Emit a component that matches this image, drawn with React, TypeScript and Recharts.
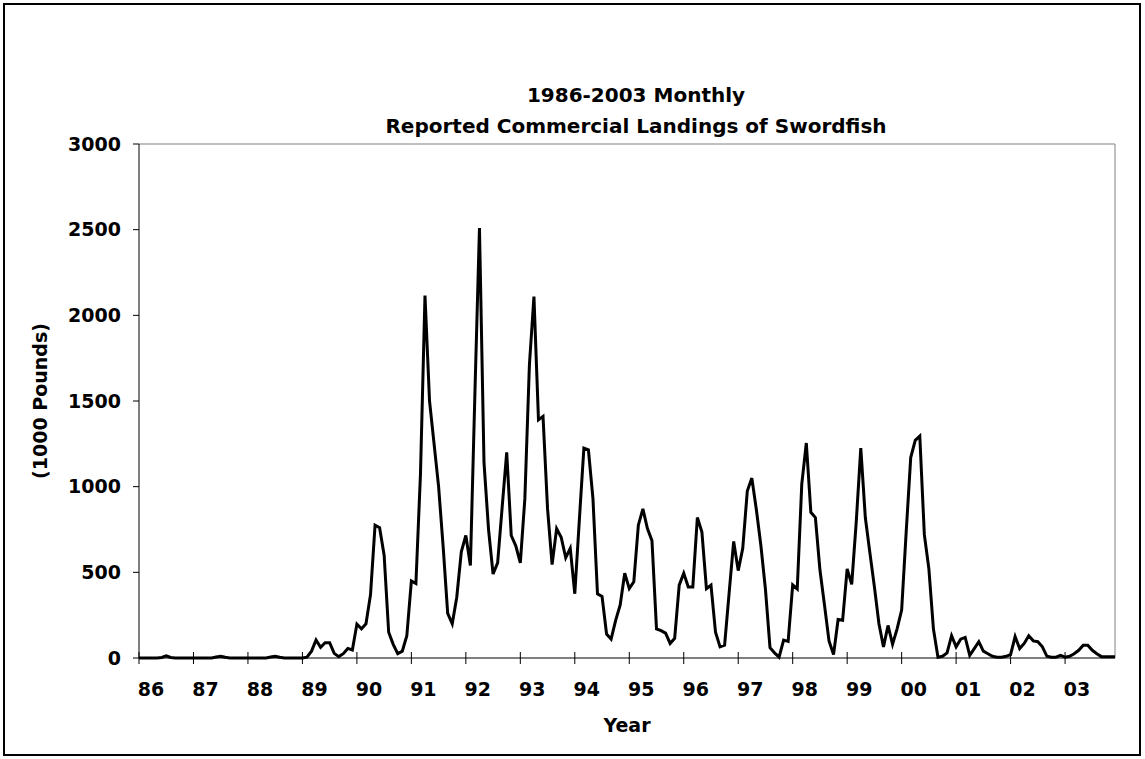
import { LineChart, Line, XAxis, YAxis, ReferenceLine } from 'recharts';

// Monthly landings (1000 lb), Jan..Dec
const years = ['86', '87', '88', '89', '90', '91', '92', '93', '94', '95', '96', '97', '98', '99', '00', '01', '02', '03'];
const m1986 = [0, 0, 0, 0, 0, 3, 12, 3, 0, 0, 0, 0];
const m1987 = [0, 0, 0, 0, 0, 6, 10, 4, 0, 0, 0, 0];
const m1988 = [0, 0, 0, 0, 0, 6, 10, 4, 0, 0, 0, 0];
const m1989 = [0, 5, 40, 105, 62, 89, 89, 27, 8, 25, 56, 47];
const m1990 = [198, 170, 200, 370, 775, 760, 600, 150, 80, 25, 40, 130];
const m1991 = [450, 435, 1070, 2115, 1500, 1250, 1000, 650, 260, 200, 355, 620];
const m1992 = [715, 540, 1550, 2510, 1140, 750, 490, 555, 880, 1200, 715, 655];
const m1993 = [555, 930, 1710, 2110, 1390, 1410, 870, 545, 755, 705, 585, 640];
const m1994 = [375, 805, 1225, 1215, 930, 375, 360, 140, 110, 220, 310, 495];
const m1995 = [405, 445, 775, 870, 755, 685, 170, 160, 145, 85, 115, 425];
const m1996 = [495, 415, 415, 820, 735, 405, 425, 150, 65, 75, 380, 680];
const m1997 = [510, 640, 975, 1050, 865, 655, 400, 60, 30, 5, 105, 97];
const m1998 = [427, 403, 1015, 1255, 850, 820, 515, 310, 100, 20, 225, 220];
const m1999 = [520, 430, 795, 1225, 820, 615, 415, 200, 65, 190, 80, 170];
const m2000 = [280, 735, 1170, 1270, 1295, 720, 520, 170, 5, 10, 30, 130];
const m2001 = [65, 110, 120, 15, 55, 95, 40, 25, 10, 5, 5, 10];
const m2002 = [20, 125, 55, 85, 130, 100, 95, 65, 10, 5, 5, 15];
const m2003 = [5, 10, 25, 45, 75, 75, 45, 25, 8, 8, 8, 8];

const yTicks = [0, 500, 1000, 1500, 2000, 2500, 3000];

const monthly = [
  m1986, m1987, m1988, m1989, m1990, m1991, m1992, m1993, m1994,
  m1995, m1996, m1997, m1998, m1999, m2000, m2001, m2002, m2003
];

const data = monthly.flat().map((v, i) => ({ i, v }));
const lastIndex = data.length - 1;
const xTicks = years.map((_, k) => k * 12);

const FONT = '"DejaVu Sans", Verdana, sans-serif';

const YearTick = (props: any) => {
  const { x, y, payload } = props;
  const label = years[Math.round(payload.value / 12)];
  return (
    <g>
      <line x1={x} x2={x} y1={y - 6} y2={y + 6} stroke="#000" strokeWidth={1} />
      <text
        x={x + 12}
        y={y + 38}
        textAnchor="middle"
        fontFamily={FONT}
        fontWeight="bold"
        fontSize={19}
        fill="#000"
      >
        {label}
      </text>
    </g>
  );
};

export default function App() {
  return (
    <div
      style={{
        position: 'absolute',
        left: 0,
        top: 0,
        width: 1145,
        height: 759,
        background: '#fff',
        fontFamily: FONT
      }}
    >
      <div
        style={{
          position: 'absolute',
          left: 3,
          top: 3,
          width: 1138,
          height: 753,
          border: '2px solid #000',
          boxSizing: 'border-box'
        }}
      />
      <div
        style={{
          position: 'absolute',
          left: 636 - 400,
          width: 800,
          top: 80,
          textAlign: 'center',
          fontWeight: 'bold',
          fontSize: 20,
          lineHeight: '31px'
        }}
      >
        1986-2003 Monthly
        <br />
        Reported Commercial Landings of Swordfish
      </div>
      <div
        style={{
          position: 'absolute',
          left: 527,
          width: 200,
          top: 714,
          textAlign: 'center',
          fontWeight: 'bold',
          fontSize: 19
        }}
      >
        Year
      </div>
      <div
        style={{
          position: 'absolute',
          left: 40 - 100,
          top: 401 - 12,
          width: 200,
          height: 24,
          lineHeight: '24px',
          textAlign: 'center',
          fontWeight: 'bold',
          fontSize: 19,
          transform: 'rotate(-90deg)'
        }}
      >
        (1000 Pounds)
      </div>
      <div style={{ position: 'absolute', left: 0, top: 0 }}>
        <LineChart
          width={1145}
          height={759}
          data={data}
          margin={{ top: 144, right: 30, left: 59, bottom: 71 }}
        >
          <XAxis
            dataKey="i"
            type="number"
            domain={[0, lastIndex]}
            ticks={xTicks}
            interval={0}
            tickSize={0}
            tickMargin={0}
            tickLine={false}
            tick={<YearTick />}
            axisLine={{ stroke: '#000', strokeWidth: 1 }}
            height={30}
          />
          <YAxis
            domain={[0, 3000]}
            ticks={yTicks}
            interval={0}
            width={80}
            tickSize={6}
            tickMargin={12}
            tickLine={{ stroke: '#000' }}
            axisLine={{ stroke: '#000', strokeWidth: 1 }}
            tick={{ fill: '#000', fontSize: 19, fontWeight: 'bold', fontFamily: FONT }}
          />
          <ReferenceLine y={3000} stroke="#808080" strokeWidth={1} />
          <ReferenceLine x={lastIndex} stroke="#808080" strokeWidth={1} />
          <Line
            type="linear"
            dataKey="v"
            stroke="#000"
            strokeWidth={3}
            dot={false}
            isAnimationActive={false}
          />
        </LineChart>
      </div>
    </div>
  );
}
